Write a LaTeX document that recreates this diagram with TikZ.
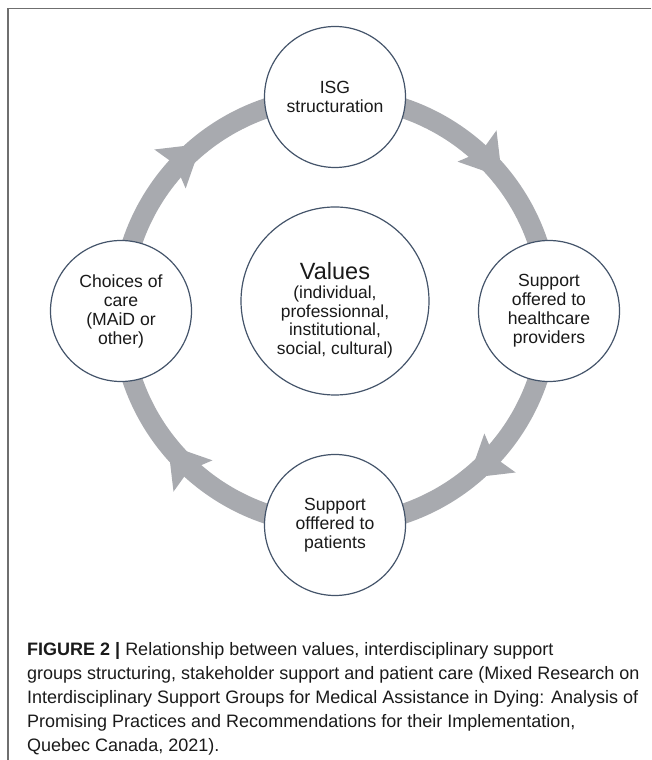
\documentclass[tikz,border=0pt]{standalone}
\usepackage{fontspec}
\setmainfont{Liberation Sans}
\usetikzlibrary{calc,backgrounds,decorations.markings}

\definecolor{ringgray}{HTML}{A8AAAF}
\definecolor{rimblue}{HTML}{44546A}
\definecolor{framegray}{HTML}{6F6F6F}
\definecolor{inkblack}{HTML}{1A1A1A}

\begin{document}
\begin{tikzpicture}[x=1pt,y=1pt,
  stage/.style={circle, draw=rimblue, line width=1.2pt, fill=white,
    minimum size=141pt, inner sep=0pt, align=center, text=inkblack,
    font=\fontsize{17.6}{19}\selectfont},
  hub/.style={stage, minimum size=188pt},
  plain/.style={inner sep=0pt, align=center, text=inkblack,
    font=\fontsize{17.4}{18.4}\selectfont},
  ring/.style={draw=ringgray, line width=20pt, postaction={decorate},
    decoration={markings, mark=at position 0.57 with
      {\fill[ringgray] (0,0) -- (-40,25) -- (-33,0) -- (-40,-25) -- cycle;}}},
  frame/.style={draw=framegray, line width=1.5pt},
  caption/.style={inner sep=0pt, anchor=north west, align=left, text=inkblack,
    font=\fontsize{18}{24}\selectfont}
]
\useasboundingbox (0,0) rectangle (651,760);

% page frame (top and left rules)
\draw[frame] (8,0) -- (8,751.5) -- (651,751.5);

% cycle stages placed on a ring around the centre
\coordinate (C) at (335,449);
\node[stage] (isg)       at ($(C)+(90:214)$)  {ISG\\structuration};
\node[stage] (providers) at ($(C)+(0:214)$)   {Support\\offered to\\healthcare\\providers};
\node[stage] (patients)  at ($(C)+(-90:214)$) {Support\\offfered to\\patients};
\node[stage] (choices)   at ($(C)+(180:214)$) {Choices of\\care\\(MAiD or\\other)};

% central values
\node[hub] (values) at (335,459) {};
\node[plain] (valuestext) at ($(values)+(0,-9)$)
  {{\fontsize{23.5}{26}\selectfont Values}\\[1pt](individual,\\professionnal,\\institutional,\\social, cultural)};

% clockwise arrows between the stages
\begin{pgfonlayer}{background}
  \draw[ring] (isg.center)       arc[start angle=90,  end angle=0,    radius=214];
  \draw[ring] (providers.center) arc[start angle=0,   end angle=-90,  radius=214];
  \draw[ring] (patients.center)  arc[start angle=-90, end angle=-180, radius=214];
  \draw[ring] (choices.center)   arc[start angle=180, end angle=90,   radius=214];
\end{pgfonlayer}

% caption
\node[caption] (cap) at (27,118)
  {\textbf{FIGURE 2 |} Relationship between values, interdisciplinary support\\
   groups structuring, stakeholder support and patient care (Mixed Research on\\
   Interdisciplinary Support Groups for Medical Assistance in Dying: Analysis of\\
   Promising Practices and Recommendations for their Implementation,\\
   Quebec Canada, 2021).};
\end{tikzpicture}
\end{document}
